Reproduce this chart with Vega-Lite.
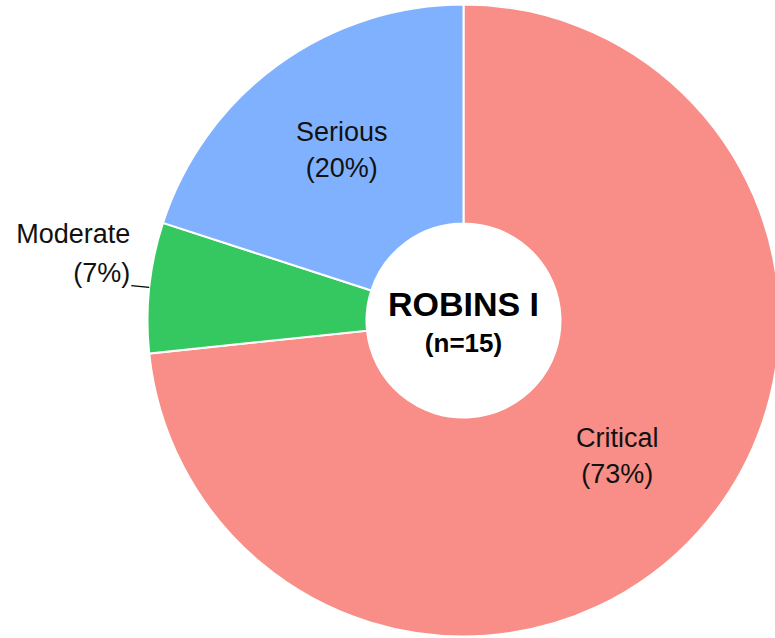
{
  "$schema": "https://vega.github.io/schema/vega-lite/v6.json",
  "width": 623,
  "height": 637,
  "autosize": {"type": "none"},
  "padding": {"left": 152, "top": 2, "right": 0, "bottom": 0},
  "background": "white",
  "config": {"view": {"stroke": null}, "font": "Liberation Sans"},
  "data": {
    "values": [
      {"Category": "Critical", "n": 11, "pct": "(73%)"},
      {"Category": "Moderate", "n": 1, "pct": "(7%)"},
      {"Category": "Serious", "n": 3, "pct": "(20%)"}
    ]
  },
  "layer": [
    {
      "mark": {"type": "arc", "radius": 316, "radius2": 97, "stroke": "white", "strokeWidth": 2},
      "encoding": {
        "theta": {"field": "n", "type": "quantitative", "stack": true},
        "color": {
          "field": "Category",
          "type": "nominal",
          "scale": {"domain": ["Critical", "Moderate", "Serious"], "range": ["#F88E87", "#36C860", "#80B1FF"]},
          "legend": null
        },
        "order": {"field": "Category", "sort": "ascending"}
      }
    },
    {
      "mark": {"type": "arc", "radius": 334, "radius2": 316, "padAngle": 1, "fillOpacity": 0, "stroke": "black", "strokeWidth": 1.3},
      "encoding": {
        "theta": {"field": "n", "type": "quantitative", "stack": true},
        "detail": {"field": "Category", "type": "nominal"},
        "order": {"field": "Category", "sort": "ascending"},
        "strokeOpacity": {"condition": {"test": "datum.Category === 'Moderate'", "value": 1}, "value": 0}
      }
    },
    {
      "mark": {"type": "text", "radius": 207, "dy": -12, "fontSize": 27, "align": "center", "baseline": "alphabetic", "color": "#111"},
      "encoding": {
        "theta": {"field": "n", "type": "quantitative", "stack": true},
        "detail": {"field": "Category", "type": "nominal"},
        "order": {"field": "Category", "sort": "ascending"},
        "text": {"condition": {"test": "datum.Category !== 'Moderate'", "field": "Category"}, "value": ""}
      }
    },
    {
      "mark": {"type": "text", "radius": 207, "dy": 24, "fontSize": 27, "align": "center", "baseline": "alphabetic", "color": "#111"},
      "encoding": {
        "theta": {"field": "n", "type": "quantitative", "stack": true},
        "detail": {"field": "Category", "type": "nominal"},
        "order": {"field": "Category", "sort": "ascending"},
        "text": {"condition": {"test": "datum.Category !== 'Moderate'", "field": "pct"}, "value": ""}
      }
    },
    {
      "mark": {"type": "text", "radius": 335, "dy": -42, "fontSize": 27, "align": "right", "baseline": "alphabetic", "color": "#111"},
      "encoding": {
        "theta": {"field": "n", "type": "quantitative", "stack": true},
        "detail": {"field": "Category", "type": "nominal"},
        "order": {"field": "Category", "sort": "ascending"},
        "text": {"condition": {"test": "datum.Category === 'Moderate'", "field": "Category"}, "value": ""}
      }
    },
    {
      "mark": {"type": "text", "radius": 335, "dy": -3, "fontSize": 27, "align": "right", "baseline": "alphabetic", "color": "#111"},
      "encoding": {
        "theta": {"field": "n", "type": "quantitative", "stack": true},
        "detail": {"field": "Category", "type": "nominal"},
        "order": {"field": "Category", "sort": "ascending"},
        "text": {"condition": {"test": "datum.Category === 'Moderate'", "field": "pct"}, "value": ""}
      }
    },
    {
      "data": {"values": [{"t": "ROBINS I"}]},
      "mark": {"type": "text", "fontSize": 34, "fontWeight": "bold", "align": "center", "baseline": "alphabetic", "dy": -5, "color": "black"},
      "encoding": {"text": {"field": "t"}}
    },
    {
      "data": {"values": [{"t": "(n=15)"}]},
      "mark": {"type": "text", "fontSize": 26, "fontWeight": "bold", "align": "center", "baseline": "alphabetic", "dy": 31, "color": "black"},
      "encoding": {"text": {"field": "t"}}
    }
  ]
}
